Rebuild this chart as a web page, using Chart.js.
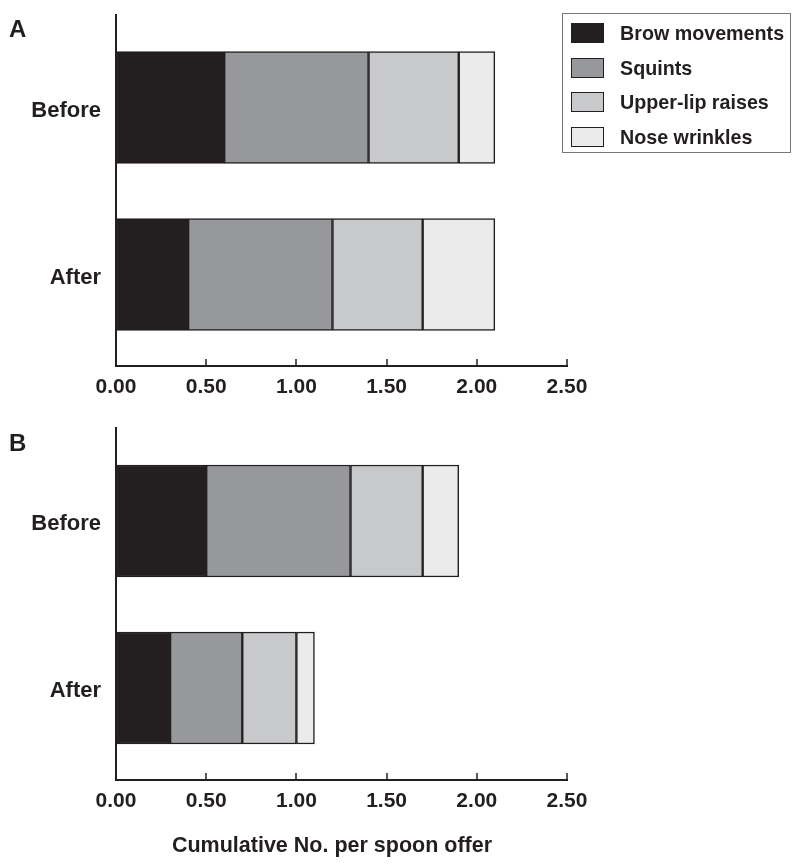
<!DOCTYPE html>
<html><head><meta charset="utf-8">
<script src="https://cdn.jsdelivr.net/npm/chart.js@4/dist/chart.umd.min.js"></script>
<style>
body{margin:0;background:#fff;width:800px;height:868px;position:relative;overflow:hidden;font-family:"Liberation Sans",Arial,sans-serif;font-weight:bold;color:#231f20}
canvas{position:absolute;left:0}
#ca{top:0}
#cb{top:420px}
.pl{position:absolute;font-size:24px;line-height:24px}
#legend{position:absolute;left:562px;top:13px;width:229px;height:140px;border:1px solid #777;box-sizing:border-box}
.row{position:absolute;left:0;height:22px;display:flex;align-items:center}
.sw{position:absolute;left:8px;width:33px;height:20px;box-sizing:border-box;border:1.5px solid #231f20}
.lt{position:absolute;left:57px;font-size:19.7px;white-space:nowrap;line-height:22px}
#xtitle{position:absolute;left:0;width:664px;text-align:center;top:834px;font-size:21.5px;line-height:22px}
</style></head>
<body>
<canvas id="ca" width="800" height="420"></canvas>
<canvas id="cb" width="800" height="448"></canvas>
<div class="pl" style="left:9px;top:17px">A</div>
<div class="pl" style="left:9px;top:431px">B</div>
<div id="legend"></div>
<div id="xtitle">Cumulative No. per spoon offer</div>
<script>
const categories = ['Before', 'After'];
const seriesNames = ['Brow movements', 'Squints', 'Upper-lip raises', 'Nose wrinkles'];
const seriesColors = ['#231f20', '#97989b', '#c8c9cb', '#ebebec'];
// Panel A values (per segment)
const browA = [0.60, 0.40];
const squintsA = [0.80, 0.80];
const upperLipA = [0.50, 0.50];
const noseA = [0.20, 0.40];
// Panel B values (per segment)
const browB = [0.50, 0.30];
const squintsB = [0.80, 0.40];
const upperLipB = [0.40, 0.30];
const noseB = [0.20, 0.10];
const xTicks = [0, 0.5, 1.0, 1.5, 2.0, 2.5];

const ink = '#231f20';
const FONT = '"Liberation Sans", Arial, sans-serif';

// legend
const lg = document.getElementById('legend');
const rowTops = [8, 43, 77, 112];
seriesNames.forEach((n, i) => {
  const r = document.createElement('div');
  r.className = 'row';
  r.style.top = rowTops[i] + 'px';
  r.style.width = '226px';
  r.innerHTML = '<div class="sw" style="background:' + seriesColors[i] + '"></div><div class="lt">' + n + '</div>';
  lg.appendChild(r);
});

const innerTicks = {
  id: 'innerTicks',
  afterDraw(chart) {
    const xs = chart.scales.x, ctx = chart.ctx, b = chart.chartArea.bottom;
    ctx.save();
    ctx.strokeStyle = ink; ctx.lineWidth = 1.5;
    xs.ticks.forEach(t => {
      if (t.value <= 0) return;
      const px = Math.round(xs.getPixelForValue(t.value));
      ctx.beginPath(); ctx.moveTo(px, b); ctx.lineTo(px, b - 7); ctx.stroke();
    });
    ctx.restore();
  }
};

function makeChart(id, vals, top, xh, ymin, ymax) {
  const ds = vals.map((v, i) => ({
    label: seriesNames[i],
    data: v.map((x, k) => ({ x: x, y: k })),
    backgroundColor: seriesColors[i],
    borderColor: ink, borderWidth: 1.5, borderSkipped: false,
    barThickness: 112, stack: 's'
  }));
  return new Chart(document.getElementById(id), {
    type: 'bar',
    data: { datasets: ds },
    plugins: [innerTicks],
    options: {
      indexAxis: 'y', responsive: false, animation: false, devicePixelRatio: 1,
      layout: { padding: { left: 0, right: 233, top: top, bottom: 0 } },
      plugins: { legend: { display: false }, tooltip: { enabled: false } },
      scales: {
        x: {
          type: 'linear', min: 0, max: 2.5, stacked: true,
          afterBuildTicks: s => { s.ticks = xTicks.map(v => ({ value: v })); },
          afterFit: s => { s.height = xh; s.paddingLeft = 0; },
          grid: { display: false, drawTicks: false },
          border: { display: true, color: ink, width: 2 },
          ticks: { color: ink, padding: 9, font: { family: FONT, size: 21, weight: 'bold' }, callback: v => Number(v).toFixed(2) }
        },
        y: {
          type: 'linear', reverse: true, offset: false, bounds: 'data', min: ymin, max: ymax, stacked: true,
          afterBuildTicks: s => { s.ticks = categories.map((c, k) => ({ value: k })); },
          afterFit: s => { s.width = 116; s.paddingTop = 0; s.paddingBottom = 0; },
          grid: { display: false, drawTicks: false, offset: false },
          border: { display: true, color: ink, width: 2 },
          ticks: { color: ink, padding: 15, labelOffset: 3, font: { family: FONT, size: 22, weight: 'bold' }, callback: v => categories[v] }
        }
      }
    }
  });
}

makeChart('ca', [browA, squintsA, upperLipA, noseA], 15, 54, -0.554, 1.548);
makeChart('cb', [browB, squintsB, upperLipB, noseB], 8, 88, -0.557, 1.551);
</script>
</body></html>
